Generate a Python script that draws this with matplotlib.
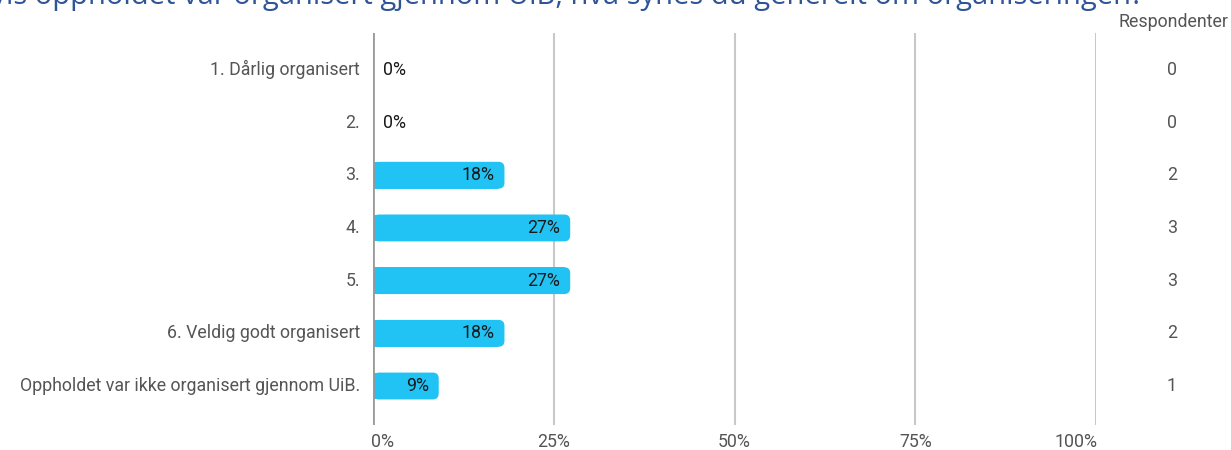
import matplotlib.pyplot as plt
from matplotlib.patches import FancyBboxPatch, Rectangle

categories = ["1. Dårlig organisert", "2.", "3.", "4.", "5.",
              "6. Veldig godt organisert", "Oppholdet var ikke organisert gjennom UiB."]
counts = [0, 0, 2, 3, 3, 2, 1]
total = sum(counts)
shares = [c / total for c in counts]
ticks = [0, 0.25, 0.5, 0.75, 1.0]
tick_labels = ["0%", "25%", "50%", "75%", "100%"]
title = "Hvis oppholdet var organisert gjennom UiB, hva synes du generelt om organiseringen?"

W, H = 1231, 450
fig = plt.figure(figsize=(W / 100, H / 100), dpi=100)
plt.rcParams['font.family'] = ['Roboto', 'DejaVu Sans']
fs = 12.8

x0, x1 = 373, 1096
ytop, ybot = 33, 425
ax = fig.add_axes([x0 / W, 1 - ybot / H, (x1 - x0) / W, (ybot - ytop) / H])
ax.set_xlim(0, 1)
ax.set_ylim(6.74, -0.70)
for s in ax.spines.values():
    s.set_visible(False)
ax.set_xticks([])
ax.set_yticks([])

for t in ticks[1:]:
    ax.axvline(t, color="#c8c8c8", lw=1.5, zorder=0)
ax.axvline(0, color="#9a9a9a", lw=2, zorder=3)

bar_h = 0.51
px_x = x1 - x0
px_y = (ybot - ytop) / 7.44
r = 6 / px_x
color = "#20C3F3"
for i, v in enumerate(shares):
    label = f"{round(v * 100)}%"
    if v > 0:
        ax.add_patch(FancyBboxPatch((0, i - bar_h / 2), v, bar_h,
                                    boxstyle=f"round,pad=0,rounding_size={r}",
                                    mutation_aspect=px_x / px_y,
                                    fc=color, ec="none", zorder=2))
        ax.add_patch(Rectangle((0, i - bar_h / 2), v - r, bar_h,
                               fc=color, ec="none", zorder=2))
        ax.text(v - 10 / px_x, i, label, ha="right", va="center",
                fontsize=fs, color="#1a1a1a", zorder=4)
    else:
        ax.text(10 / px_x, i, label, ha="left", va="center",
                fontsize=fs, color="#1a1a1a", zorder=4)
    ax.text(-13 / px_x, i, categories[i], ha="right", va="center",
            fontsize=fs, color="#555555", clip_on=False)
    ax.text((1172 - x0) / px_x, i, str(counts[i]), ha="center", va="center",
            fontsize=fs, color="#555555", clip_on=False)

# x tick labels: outer ones kept inside the plot width
for t, lab in zip(ticks, tick_labels):
    ha = "left" if t == 0 else ("right" if t == 1 else "center")
    xx = t if 0 < t < 1 else (t - 2 / px_x if t == 0 else t + 2 / px_x)
    ax.text(xx, 6.74 + 17 / px_y, lab, ha=ha, va="center",
            fontsize=fs, color="#555555", clip_on=False)

fig.text(1228 / W, 1 - 22 / H, "Respondenter", ha="right", va="center",
         fontsize=fs, color="#555555")
fig.text(1143 / W, 1 - 4 / H, title, ha="right", va="baseline",
         fontsize=21, color="#2F5597", family=["Open Sans", "DejaVu Sans"])

fig.savefig("out.png", dpi=100)
